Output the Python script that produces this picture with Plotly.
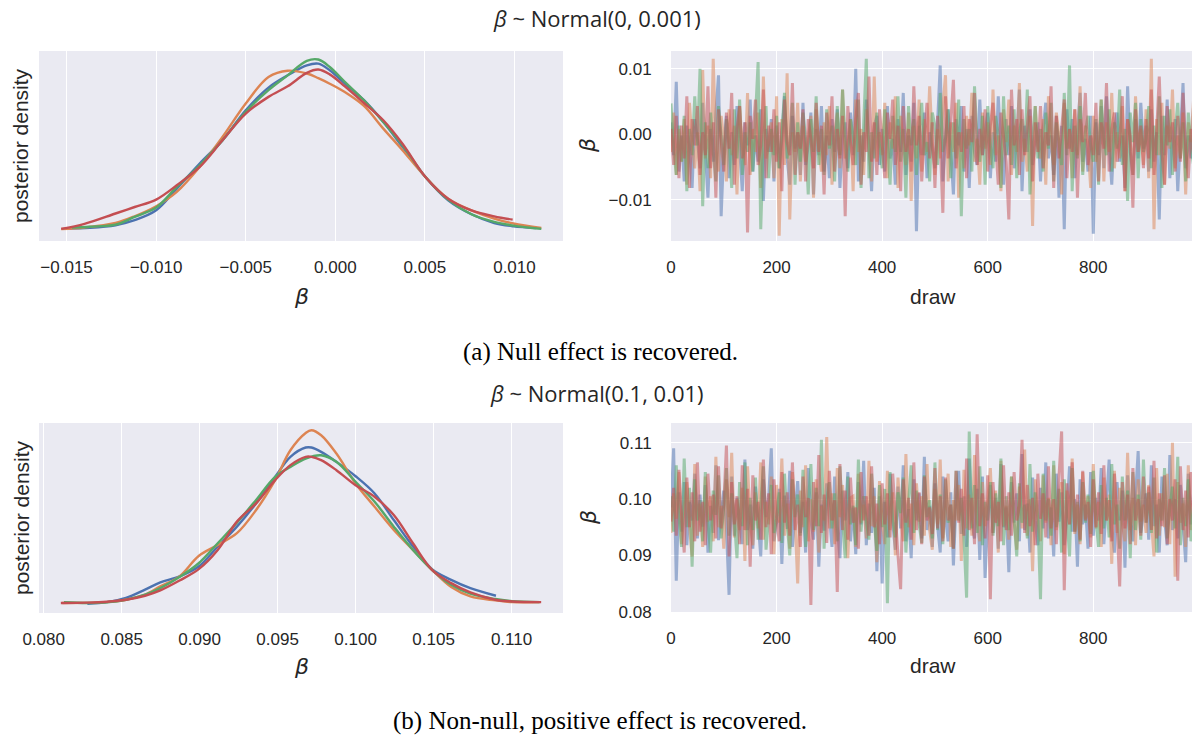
import numpy as np
import plotly.graph_objects as go

W, H = 1192, 735
colors = ["#4C72B0", "#DD8452", "#55A868", "#C44E52"]
chains = ["0", "1", "2", "3"]

# ---------------- panel (a): posterior densities, beta ----------------
a_kde_x = [
    [-0.0150, -0.0137, -0.01227, -0.0112, -0.0100, -0.00885, -0.00757, -0.0063, -0.0050, -0.00373, -0.00266, -0.00159,
     -0.00095, -0.00031, 0.00053, 0.0016, 0.00268, 0.00375, 0.00503, 0.0063, 0.0076, 0.00887, 0.00994, 0.0112],
    [-0.0153, -0.0140, -0.01227, -0.0112, -0.0100, -0.00885, -0.00757, -0.0063, -0.0050, -0.00373, -0.00266, -0.00159,
     -0.00095, -0.00031, 0.00053, 0.0016, 0.00268, 0.00375, 0.00503, 0.0063, 0.0076, 0.00887, 0.00994, 0.0115],
    [-0.0147, -0.0137, -0.01227, -0.0112, -0.0100, -0.00885, -0.00757, -0.0063, -0.0050, -0.00373, -0.00266, -0.00159,
     -0.00095, -0.00031, 0.00053, 0.0016, 0.00268, 0.00375, 0.00503, 0.0063, 0.0076, 0.00887, 0.00994, 0.0115],
    [-0.0153, -0.0140, -0.01227, -0.0112, -0.0100, -0.00885, -0.00757, -0.0063, -0.0050, -0.00373, -0.00266, -0.00159,
     -0.00095, -0.00031, 0.00053, 0.0016, 0.00268, 0.00375, 0.00503, 0.0063, 0.0076, 0.00887, 0.0099],
]
a_kde_y = [
    [2.0, 2.4, 3.8, 6.5, 11.8, 23.5, 37.0, 49.5, 65.7, 77.9, 84.5, 89.9, 90.8, 87.2, 80.1, 71.1, 59.4, 46.0, 29.8,
     17.2, 9.7, 5.0, 3.2, 2.3],
    [1.8, 2.6, 5.0, 8.6, 14.0, 21.7, 35.2, 51.3, 69.3, 83.6, 87.0, 85.5, 83.0, 80.0, 75.5, 68.0, 55.8, 44.2, 29.8,
     18.1, 11.8, 7.4, 4.7, 2.3],
    [2.6, 3.0, 4.1, 8.3, 13.3, 24.4, 36.1, 49.5, 64.8, 76.5, 84.5, 92.3, 93.0, 89.0, 81.0, 71.1, 59.4, 46.9, 29.8,
     17.6, 9.7, 5.6, 3.6, 1.8],
    [1.8, 4.5, 10.1, 13.6, 17.6, 25.3, 35.2, 49.5, 63.9, 72.9, 78.6, 85.8, 87.6, 85.0, 78.6, 69.6, 60.3, 47.7, 29.8,
     18.1, 11.8, 8.6, 6.8],
]

# trace values, beta x 1e4, one value every 5 draws
a_trace_e4 = [
    [18, -32, 80, -57, -2, -72, 13, -17, -82, 23, -7, -52, 48, -27, -97, 8, -42, 33, 90, -125,
     -22, 28, -67, 3, -47, 43, -32, -87, 18, -17, 53, -57, -2, -42, 38, -102, 8, -27, 23, -72,
     13, -52, -7, 58, -37, -77, 28, -22, 3, -62, 48, -47, -17, 33, -92, 8, -32, 43, -57, -2,
     -67, 23, -27, 38, -82, -7, 18, -52, 33, -32, 100, -72, -2, -42, 53, -22, -87, 13, 28, -47,
     8, -57, 43, -37, -7, -77, 23, -27, 63, -62, -2, -42, 48, -148, 13, -32, 33, -67, 3, -22,
     -52, 18, 105, -72, -7, 38, -37, -92, 23, -17, 43, -57, 8, -82, 28, -27, -47, 53, -32, -2,
     33, -67, 3, -42, 58, -22, -77, 23, -32, 43, -52, -7, 68, -87, 13, -27, 38, -47, -17, 18,
     -72, 8, 48, -37, -2, -62, 28, -97, 13, -145, 38, -22, 23, -67, 3, 63, -42, -7, -57, 28,
     -152, 18, -32, 43, -52, 58, -17, -77, 8, 33, -42, -2, -82, 73, -27, -62, 23, -37, 48, -22,
     13, -57, 38, -42, 3, -130, 28, -32, 53, -67, -7, 23, -87, 8, 78, -52, -2, -37, 43, -27],
    [-27, 33, -62, 8, -42, 23, -77, 48, -12, -52, 3, -87, 98, -37, 13, -67, 115, -22, -57, 28,
     -7, -72, 38, -32, 13, -92, 43, -17, -47, 63, -62, 8, -27, 33, -82, 88, -37, -12, 18, -67,
     58, -155, 23, -47, 93, -130, 3, -27, 48, -72, 13, -42, -7, 28, -97, 38, -22, -57, 18, -32,
     43, -77, -2, 33, -52, 68, -37, -12, 23, -87, 53, -27, 8, -62, 38, -17, -72, 88, -42, 3,
     -32, 48, -67, 18, -22, 58, -82, 28, -7, -47, 33, -102, 13, -37, 53, -57, 23, -27, 73, -12,
     -62, 8, -37, 43, 90, -72, 18, -27, 48, -97, 3, -52, 28, -17, 63, -42, -7, -77, 33, -22,
     18, -47, 68, -32, -2, -87, 38, -12, 53, -62, 13, -27, 78, -42, -7, -57, 28, -140, 43, -17,
     -37, 23, -77, 58, -12, -47, 33, -2, -92, 48, -22, 8, -67, 38, -32, 73, -57, 13, -17, -82,
     28, -42, -7, 53, -72, 18, -27, 63, -52, 3, -37, 43, -87, 23, -12, -62, 58, -27, 8, -47,
     38, -67, 115, -145, 23, -32, 48, -77, 13, -22, 68, -52, -2, -37, 33, -92, 18, -12, 53, -42],
    [47, -22, -62, 13, -42, 28, -87, 8, -32, 58, -17, 100, -110, 18, -52, 33, -27, -72, 43, -7,
     -47, 23, -12, -82, 38, -37, 53, -62, 3, -27, 18, -57, 33, 110, -145, -12, 43, -67, 8, -32,
     28, -52, 3, 63, -37, -17, 48, -77, 18, -42, 33, -7, -92, 23, -27, 58, -47, 8, -62, 38,
     -22, 13, -72, 43, -32, 68, -12, -57, 23, -2, -47, 53, -82, 18, 115, -67, 3, -37, 33, -17,
     -52, 38, -7, -77, 28, -27, 58, -42, 8, -97, 43, -17, 23, -62, 3, 48, -32, -12, -72, 33,
     13, -47, 63, -27, -7, 38, -67, 18, -37, 53, -125, 23, -22, 8, -57, 73, -12, -42, 28, -77,
     43, -17, -52, 28, -2, -82, 58, -32, 13, -47, 38, -67, 3, 23, -27, 68, -92, -7, 43, -37,
     8, -57, 33, -22, 48, -72, 18, -12, -47, 63, -32, 105, -87, 13, -37, 43, -62, 3, 28, -17,
     -42, 23, -77, 53, -7, -32, 38, -57, 18, -22, 68, -47, 8, -102, 33, -12, 48, -67, 23, -27,
     -7, 43, -52, 13, -32, 58, -82, 28, -17, 38, -62, 3, 48, -37, 18, -72, 33, -22, -47, 110],
    [8, -47, 28, -67, 13, -37, 58, -82, 23, -17, 43, -62, 3, -32, 73, -52, 18, -97, 38, -12,
     -57, 33, -22, 63, -77, 8, 43, -37, 18, -150, 28, -7, 53, -47, -17, 68, -67, 13, -27, 38,
     -42, 18, -87, 53, -12, -32, 78, -62, 3, -22, 38, -72, 23, -7, -52, 48, -27, 13, -92, 33,
     -17, 58, -57, 8, -37, 28, -125, 43, -12, -47, 23, 63, -77, 3, -27, 88, -42, 18, -62, 38,
     -22, -67, 33, -7, 53, -47, 13, -87, 43, -27, 8, -57, 73, -17, 28, -72, -2, 48, -37, 18,
     -82, 28, -12, -120, 58, -37, 18, 83, -52, 3, -27, 43, -67, 23, -12, 63, -47, 8, -32, 38,
     -57, 13, 48, -22, -77, 33, -2, -42, -130, 68, -17, 23, -62, 38, -32, 8, 58, -72, 18, -27,
     43, -52, 3, -17, 73, -82, 28, -37, 13, 53, -67, 8, -27, 38, -97, 23, -12, 63, -47, -2,
     -32, 48, -72, 18, -22, 78, -57, 8, 33, -42, -12, 58, -87, 23, -2, -112, 38, -27, 13, -52,
     23, -37, 68, -62, 3, 88, -27, -77, 43, -12, 18, -57, 28, -42, 63, -22, -67, 8, -32, 33],
]

# ---------------- panel (b) ----------------
b_kde_x = [
    [0.0828, 0.08405, 0.08528, 0.0865, 0.08748, 0.08871, 0.08994, 0.09116, 0.09239, 0.09362, 0.09484, 0.09582,
     0.0968, 0.09717, 0.09779, 0.09877, 0.1000, 0.10122, 0.10245, 0.10368, 0.1049, 0.10613, 0.10736, 0.1090],
    [0.0812, 0.08405, 0.08528, 0.0865, 0.08748, 0.08871, 0.08994, 0.09116, 0.09239, 0.09362, 0.09484, 0.09582,
     0.0968, 0.09717, 0.09779, 0.09877, 0.1000, 0.10122, 0.10245, 0.10368, 0.1049, 0.10613, 0.10736, 0.10895,
     0.11005, 0.1118],
    [0.0813, 0.0828, 0.08405, 0.08528, 0.0865, 0.08748, 0.08871, 0.08994, 0.09116, 0.09239, 0.09362, 0.09484,
     0.09582, 0.0968, 0.09779, 0.09877, 0.1000, 0.10122, 0.10245, 0.10368, 0.1049, 0.10613, 0.10736, 0.10895,
     0.11005, 0.1118],
    [0.0811, 0.0828, 0.08405, 0.08528, 0.0865, 0.08748, 0.08871, 0.08994, 0.09116, 0.09239, 0.09362, 0.09484,
     0.09582, 0.0968, 0.09717, 0.09779, 0.09877, 0.1000, 0.10122, 0.10245, 0.10368, 0.1049, 0.10613, 0.10736,
     0.10895, 0.11005, 0.1119],
]
b_kde_y = [
    [0.3, 1.3, 3.7, 8.5, 12.7, 16.2, 21.9, 33.5, 45.0, 58.5, 73.8, 85.4, 90.8, 90.8, 88.3, 82.5, 74.2, 64.2, 48.8,
     33.5, 20.4, 14.2, 9.4, 5.0],
    [0.8, 1.3, 2.7, 5.6, 10.4, 16.2, 28.0, 34.4, 41.2, 54.6, 71.9, 89.2, 99.2, 100.8, 97.9, 87.3, 70.0, 56.5, 43.1,
     31.5, 20.0, 10.0, 4.6, 2.3, 1.3, 1.3],
    [1.2, 0.8, 1.2, 2.7, 5.6, 9.4, 15.8, 23.8, 35.4, 47.3, 60.4, 73.8, 79.6, 84.4, 86.3, 82.5, 71.0, 59.4, 45.0,
     31.5, 20.0, 11.3, 6.2, 3.1, 1.9, 1.3],
    [0.8, 1.0, 1.5, 2.7, 5.0, 8.1, 13.8, 20.4, 31.5, 47.9, 58.5, 71.9, 80.6, 85.4, 85.4, 83.5, 77.7, 69.0, 62.3,
     51.7, 35.4, 20.0, 12.3, 6.9, 2.7, 1.7, 1.3],
]

b_trace_e4 = [
    [985, 1090, 855, 1012, 942, 1030, 918, 995, 962, 1045, 930, 1008, 951, 1025, 905, 988, 940, 1060, 927, 978,
     1015, 948, 830, 1040, 935, 1002, 958, 920, 1070, 945, 990, 912, 1022, 960, 898, 1035, 968, 1002, 1090, 925,
     958, 1018, 885, 1006, 947, 1050, 915, 975, 1032, 940, 995, 905, 1055, 962, 928, 1012, 880, 990, 944, 1028,
     970, 915, 1040, 952, 895, 1015, 962, 1048, 925, 985, 902, 1030, 955, 1068, 918, 992, 940, 1020, 872, 1005,
     850, 995, 932, 1045, 958, 910, 1022, 948, 1060, 925, 982, 895, 1035, 962, 1010, 930, 1075, 945, 988, 915,
     1028, 952, 905, 1040, 968, 925, 1012, 882, 995, 1050, 938, 1005, 915, 1072, 958, 930, 1018, 892, 1040, 860,
     965, 1025, 940, 1002, 912, 1062, 950, 985, 870, 1030, 958, 1010, 925, 1080, 945, 992, 905, 1038, 962, 918,
     1020, 948, 1065, 930, 985, 898, 1045, 960, 1012, 918, 975, 1058, 942, 1000, 880, 1035, 955, 990, 912, 1048,
     935, 1002, 962, 1055, 920, 988, 1070, 945, 905, 1030, 962, 1015, 878, 1042, 958, 925, 1008, 1085, 940, 975,
     1010, 928, 1060, 952, 990, 905, 1040, 965, 918, 1078, 945, 1000, 930, 1025, 962, 888, 1045, 955, 1012, 935],
    [940, 1010, 965, 1048, 920, 985, 1030, 952, 898, 1062, 935, 992, 915, 1040, 960, 1005, 925, 1075, 950, 988,
     912, 1035, 968, 1082, 932, 1000, 945, 1020, 890, 1058, 962, 918, 1012, 948, 1065, 928, 995, 955, 1040, 902,
     1025, 958, 1072, 935, 992, 912, 1048, 965, 850, 1015, 950, 1060, 925, 1000, 942, 1035, 905, 988, 962, 1110,
     948, 1010, 920, 1055, 968, 1025, 940, 895, 1002, 1005, 915, 1045, 958, 990, 930, 1068, 952, 1005, 888, 1032,
     962, 920, 1050, 945, 1012, 900, 1038, 968, 925, 1080, 950, 992, 918, 1028, 960, 1005, 935, 1062, 945, 910,
     1018, 955, 1070, 930, 985, 1045, 915, 998, 962, 1025, 890, 1052, 948, 1008, 935, 1078, 960, 925, 1030, 952,
     998, 1055, 940, 1015, 905, 1068, 952, 988, 928, 1040, 962, 910, 1022, 948, 1088, 935, 1000, 872, 1035, 968,
     925, 1042, 958, 1002, 918, 1060, 945, 985, 1030, 902, 1015, 955, 1072, 938, 990, 920, 1048, 965, 1005, 932,
     1062, 948, 995, 915, 1038, 962, 1008, 885, 1050, 940, 1020, 958, 925, 1082, 945, 1002, 918, 1035, 960, 990,
     940, 1025, 962, 898, 1055, 935, 1010, 950, 1045, 920, 1100, 862, 1030, 958, 992, 915, 1060, 945, 1005, 972],
    [1005, 942, 1060, 968, 915, 1072, 950, 1020, 880, 1035, 962, 998, 925, 1048, 958, 905, 1015, 972, 1042, 930,
     988, 1055, 935, 1010, 962, 895, 1030, 952, 1065, 918, 1002, 945, 1038, 928, 990, 1058, 910, 975, 1025, 940,
     965, 1012, 922, 1045, 958, 900, 1035, 968, 1008, 935, 1052, 915, 990, 1062, 945, 1020, 952, 1105, 912, 998,
     1030, 948, 1010, 925, 1058, 962, 895, 1040, 955, 988, 918, 1070, 942, 1005, 962, 928, 1045, 958, 908, 1025,
     950, 1018, 815, 1048, 962, 932, 1012, 975, 1038, 905, 992, 1060, 940, 1015, 955, 922, 1042, 968, 998, 930,
     1065, 945, 1008, 920, 1035, 958, 990, 912, 1050, 962, 1002, 930, 825, 1120, 948, 1025, 940, 1058, 918, 995,
     962, 1030, 935, 1010, 952, 1072, 918, 1005, 945, 1040, 962, 898, 1028, 958, 990, 930, 1062, 942, 1012, 965,
     822, 1045, 962, 1000, 935, 1068, 950, 1018, 905, 1035, 970, 898, 1055, 942, 995, 925, 1030, 958, 1008, 938,
     1050, 962, 915, 1025, 948, 1002, 932, 1062, 955, 990, 912, 1040, 962, 1015, 895, 1048, 945, 1008, 928, 1070,
     958, 1012, 940, 1038, 905, 1000, 962, 1055, 930, 985, 1022, 948, 1075, 918, 1002, 952, 1035, 925, 990, 1062],
    [960, 1020, 935, 1052, 972, 905, 1038, 950, 1012, 925, 1065, 942, 995, 918, 1045, 962, 1008, 930, 1058, 948,
     990, 1095, 898, 1030, 955, 1005, 920, 1060, 945, 1018, 880, 1042, 962, 995, 928, 1070, 950, 1010, 902, 1035,
     968, 925, 1048, 958, 1012, 935, 1065, 945, 990, 915, 1040, 968, 1002, 812, 1030, 952, 1078, 940, 1008, 922,
     1050, 962, 998, 835, 1062, 945, 1015, 928, 1038, 958, 985, 912, 1048, 962, 1005, 935, 1058, 950, 992, 920,
     1028, 955, 1010, 932, 1045, 968, 900, 840, 1035, 958, 1002, 928, 1065, 945, 1012, 920, 1040, 962, 985, 938,
     1055, 948, 1005, 925, 1038, 962, 990, 912, 1050, 958, 1018, 935, 1072, 945, 1002, 920, 1115, 952, 1010, 930,
     1042, 822, 1030, 958, 995, 925, 1060, 945, 1012, 935, 1048, 962, 988, 1105, 940, 1025, 952, 1002, 918, 1045,
     965, 1010, 932, 1058, 948, 1000, 920, 1040, 1120, 838, 1028, 955, 1065, 942, 1008, 928, 1050, 962, 995, 915,
     1035, 950, 1012, 938, 1060, 962, 998, 925, 1045, 958, 845, 1030, 948, 1008, 920, 1055, 962, 1000, 935, 1040,
     958, 1022, 945, 1068, 930, 1010, 952, 1042, 920, 1000, 962, 1035, 855, 1058, 945, 1015, 932, 1048, 960, 992],
]

draw_step = 5
a_xticks = [-0.015, -0.010, -0.005, 0.000, 0.005, 0.010]
a_xticktext = ["\u22120.015", "\u22120.010", "\u22120.005", "0.000", "0.005", "0.010"]
b_xticks = [0.080, 0.085, 0.090, 0.095, 0.100, 0.105, 0.110]
b_xticktext = ["0.080", "0.085", "0.090", "0.095", "0.100", "0.105", "0.110"]
a_yticks = [-0.01, 0.0, 0.01]
a_yticktext = ["\u22120.01", "0.00", "0.01"]
b_yticks = [0.08, 0.09, 0.10, 0.11]
b_yticktext = ["0.08", "0.09", "0.10", "0.11"]
draw_ticks = [0, 200, 400, 600, 800]

titles = ["<i>β</i> ~ Normal(0, 0.001)", "<i>β</i> ~ Normal(0.1, 0.01)"]
captions = ["(a) Null effect is recovered.", "(b) Non-null, positive effect is recovered."]


def fx(p):
    return p / W


def fy(p):
    return 1 - p / H


fig = go.Figure()

# densities
for kx, ky, ax in [(a_kde_x, a_kde_y, ("x", "y")), (b_kde_x, b_kde_y, ("x3", "y3"))]:
    for i in range(4):
        fig.add_trace(go.Scatter(x=kx[i], y=ky[i], mode="lines", xaxis=ax[0], yaxis=ax[1],
                                 line=dict(color=colors[i], width=2.4, shape="spline", smoothing=1.0),
                                 name="chain " + chains[i], showlegend=False, hoverinfo="skip"))
# traces
for tr, ax in [(a_trace_e4, ("x2", "y2")), (b_trace_e4, ("x4", "y4"))]:
    for i in range(4):
        vals = np.array(tr[i]) * 1e-4
        draws = np.arange(len(vals)) * draw_step
        fig.add_trace(go.Scatter(x=draws, y=vals, mode="lines", xaxis=ax[0], yaxis=ax[1],
                                 line=dict(color=colors[i], width=3.0), opacity=0.5,
                                 name="chain " + chains[i], showlegend=False, hoverinfo="skip"))

tickfont = dict(family="Arial", size=17, color="#262626")
common = dict(showline=False, zeroline=False, gridcolor="white", gridwidth=1.4, tickfont=tickfont,
              ticks="outside", tickcolor="rgba(0,0,0,0)", automargin=False)
hidden_y = dict(showticklabels=False, showgrid=False, zeroline=False, showline=False, ticks="",
                automargin=False)

top_dom = [fy(241), fy(51)]
bot_dom = [fy(613), fy(423)]
left_dom = [fx(39), fx(563)]
right_dom = [fx(671), 1.0]

fig.update_layout(
    width=W, height=H, margin=dict(l=0, r=0, t=0, b=0, pad=0), autosize=False,
    paper_bgcolor="white", plot_bgcolor="#EAEAF2", showlegend=False,
    xaxis=dict(domain=left_dom, anchor="y", range=[-0.01654, 0.01271], tickvals=a_xticks, ticktext=a_xticktext,
               ticklen=11, **common),
    yaxis=dict(domain=top_dom, anchor="x", range=[-4.7, 97.6], **hidden_y),
    xaxis2=dict(domain=right_dom, anchor="y2", range=[0, 987], tickvals=draw_ticks, ticklen=11, **common),
    yaxis2=dict(domain=top_dom, anchor="x2", range=[-0.0163, 0.0127], tickvals=a_yticks, ticktext=a_yticktext,
                ticklen=15, **common),
    xaxis3=dict(domain=left_dom, anchor="y3", range=[0.0797, 0.1133], tickvals=b_xticks, ticktext=b_xticktext,
                ticklen=11, **common),
    yaxis3=dict(domain=bot_dom, anchor="x3", range=[-5.0, 105.0], **hidden_y),
    xaxis4=dict(domain=right_dom, anchor="y4", range=[0, 987], tickvals=draw_ticks, ticklen=11, **common),
    yaxis4=dict(domain=[fy(612), fy(423)], anchor="x4", range=[0.07995, 0.1135], tickvals=b_yticks,
                ticktext=b_yticktext, ticklen=15, **common),
)

lab = dict(family="Arial", size=21, color="#262626")
beta_font = dict(family="DejaVu Sans", size=22, color="#262626")
ann = []
for k, (ttl, cap, yt, yc, yp, yl) in enumerate([
        (titles[0], captions[0], 18, 352, 146, 297),
        (titles[1], captions[1], 393, 721, 518, 666)]):
    ann.append(dict(text=ttl, x=fx(597), y=fy(yt), xref="paper", yref="paper", showarrow=False,
                    font=dict(family="Open Sans", size=22, color="#262626"), xanchor="center", yanchor="middle"))
    ann.append(dict(text=cap, x=fx(600), y=fy(yc), xref="paper", yref="paper", showarrow=False,
                    font=dict(family="Liberation Serif", size=25, color="black"), xanchor="center",
                    yanchor="middle"))
    ann.append(dict(text="posterior density", x=fx(21), y=fy(yp), xref="paper", yref="paper", showarrow=False,
                    textangle=-90, font=lab, xanchor="center", yanchor="middle"))
    ann.append(dict(text="<i>β</i>", x=fx(301), y=fy(yl), xref="paper", yref="paper", showarrow=False,
                    font=beta_font, xanchor="center", yanchor="middle"))
    ann.append(dict(text="draw", x=fx(933), y=fy(yl - 1), xref="paper", yref="paper", showarrow=False,
                    font=lab, xanchor="center", yanchor="middle"))
    ann.append(dict(text="<i>β</i>", x=fx(588), y=fy(yp), xref="paper", yref="paper", showarrow=False,
                    textangle=-90, font=beta_font, xanchor="center", yanchor="middle"))
fig.update_layout(annotations=ann)

fig.write_html("out.html", config={"displayModeBar": False},
               post_script="document.body.style.margin='0px';document.body.style.overflow='hidden';")
